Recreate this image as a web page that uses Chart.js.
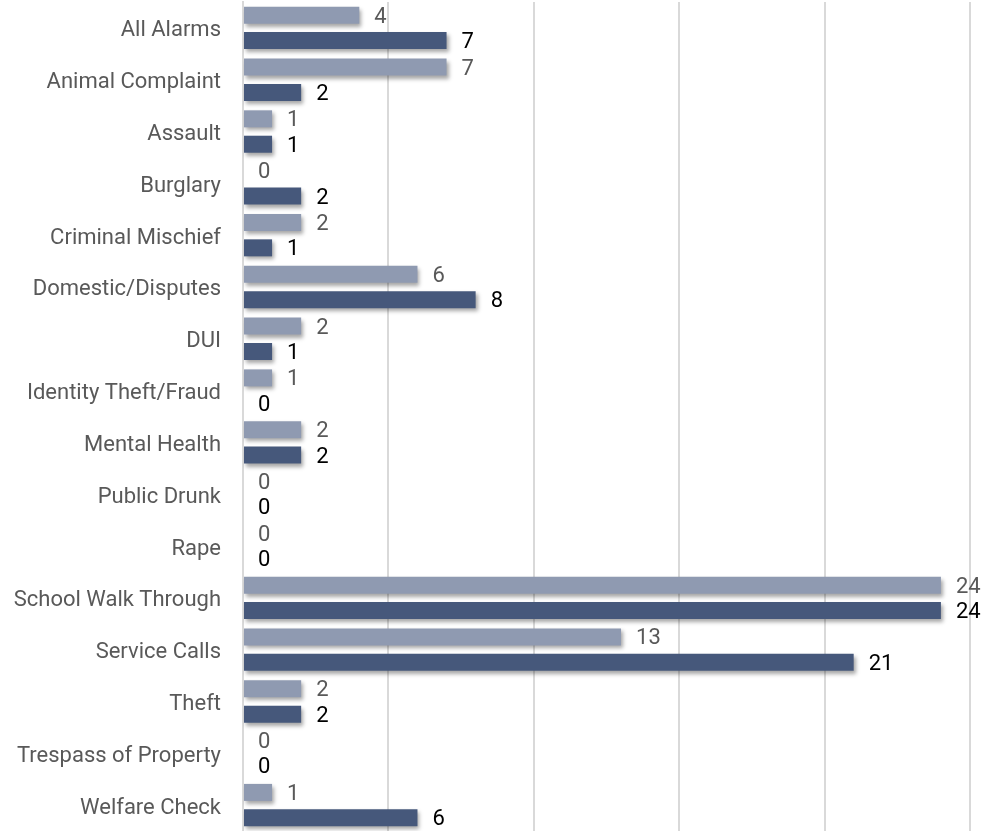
<!DOCTYPE html>
<html>
<head>
<meta charset="utf-8">
<script src="https://cdn.jsdelivr.net/npm/chart.js@4/dist/chart.umd.min.js"></script>
<style>
    html, body { margin: 0; padding: 0; background: #fff; }
    #wrap { width: 987px; height: 831px; }
</style>
</head>
<body>
<div id="wrap"><canvas id="callsChart"></canvas></div>
<script>
// Call types and counts for the two periods
const categories = ['All Alarms', 'Animal Complaint', 'Assault', 'Burglary', 'Criminal Mischief',
    'Domestic/Disputes', 'DUI', 'Identity Theft/Fraud', 'Mental Health', 'Public Drunk', 'Rape',
    'School Walk Through', 'Service Calls', 'Theft', 'Trespass of Property', 'Welfare Check'];
const previousCounts = [4, 7, 1, 0, 2, 6, 2, 1, 2, 0, 0, 24, 13, 2, 0, 1];
const currentCounts = [7, 2, 1, 2, 1, 8, 1, 0, 2, 0, 0, 24, 21, 2, 0, 6];
const xMax = 25;

// soft drop shadow under the bars
const barShadow = {
    id: 'barShadow',
    beforeDatasetsDraw(chart) {
        const ctx = chart.ctx;
        ctx.save();
        ctx.shadowColor = 'rgba(0, 0, 0, 0.35)';
        ctx.shadowOffsetX = 2;
        ctx.shadowOffsetY = 3;
        ctx.shadowBlur = 4;
    },
    afterDatasetsDraw(chart) {
        chart.ctx.restore();
    }
};

// value labels at the end of each bar
const valueLabels = {
    id: 'valueLabels',
    afterDatasetsDraw(chart) {
        const ctx = chart.ctx;
        ctx.save();
        ctx.font = '22px Roboto, "Liberation Sans", sans-serif';
        ctx.textBaseline = 'middle';
        ctx.textAlign = 'left';
        chart.data.datasets.forEach((ds, i) => {
            ctx.fillStyle = ds.labelColor;
            chart.getDatasetMeta(i).data.forEach((bar, j) => {
                ctx.fillText(ds.data[j], bar.x + 15, bar.y + 2);
            });
        });
        ctx.restore();
    }
};

new Chart(document.getElementById('callsChart').getContext('2d'), {
    type: 'bar',
    data: {
        labels: categories,
        datasets: [{
            label: 'Previous',
            data: previousCounts,
            backgroundColor: '#8f9ab1',
            labelColor: '#595959',
            barPercentage: 0.67,
            categoryPercentage: 0.98
        }, {
            label: 'Current',
            data: currentCounts,
            backgroundColor: '#46587b',
            labelColor: '#000000',
            barPercentage: 0.67,
            categoryPercentage: 0.98
        }]
    },
    options: {
        indexAxis: 'y',
        responsive: true,
        maintainAspectRatio: false,
        animation: false,
        layout: {
            padding: { top: 2, right: 17, bottom: 0, left: 0 }
        },
        plugins: {
            legend: { display: false },
            tooltip: { enabled: false }
        },
        scales: {
            x: {
                min: 0,
                max: xMax,
                ticks: { display: false, stepSize: 5 },
                grid: { color: '#d9d9d9', lineWidth: 2, drawTicks: false },
                border: { display: false }
            },
            y: {
                afterFit: function(scale) {
                    scale.width = 243;
                    scale.paddingTop = 0;
                    scale.paddingBottom = 0;
                },
                ticks: {
                    padding: 22,
                    labelOffset: 3,
                    color: '#595959',
                    font: { family: 'Roboto, "Liberation Sans", sans-serif', size: 22 }
                },
                grid: { display: false, drawTicks: false },
                border: { display: true, color: '#d9d9d9', width: 2 }
            }
        }
    },
    plugins: [barShadow, valueLabels]
});
</script>
</body>
</html>
